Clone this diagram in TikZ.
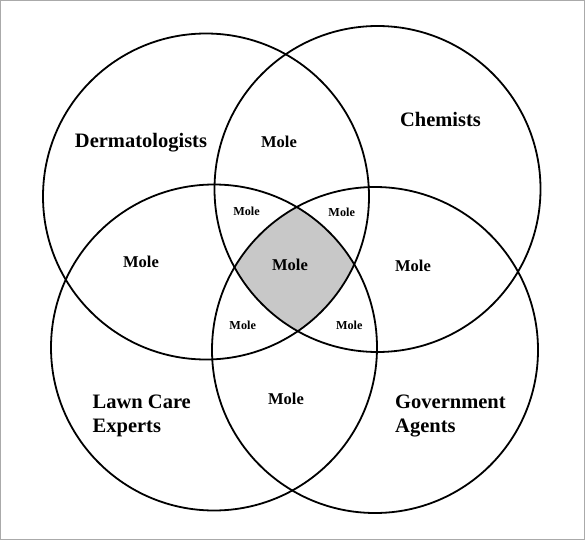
\documentclass[tikz,border=0pt]{standalone}
\usepackage{fontspec}
\setmainfont{Liberation Serif}
\definecolor{fillgray}{RGB}{200,200,200}
\definecolor{framegray}{RGB}{170,170,170}
\tikzset{
  ring/.style={draw=black, line width=1.8pt},
  grouplabel/.style={font=\fontsize{20.5}{23.5}\selectfont\bfseries, inner sep=0pt},
  bigmole/.style={font=\fontsize{16.5}{19}\selectfont\bfseries, inner sep=0pt, anchor=base},
  smallmole/.style={font=\fontsize{12.2}{14}\selectfont\bfseries, inner sep=0pt, anchor=base}
}
\begin{document}
\begin{tikzpicture}[x=1pt, y=-1pt]
\useasboundingbox (0,0) rectangle (585,540);
\draw[framegray, line width=1pt] (0.5,0.5) rectangle (584.5,539.5);
\coordinate (cD) at (206,196.5);
\coordinate (cC) at (377.5,189);
\coordinate (cL) at (214,347.5);
\coordinate (cG) at (375,350);
\begin{scope}
  \clip (cD) circle[radius=163pt];
  \clip (cC) circle[radius=163pt];
  \clip (cL) circle[radius=163pt];
  \fill[fillgray] (cG) circle[radius=163pt];
\end{scope}
\draw[ring] (cD) circle[radius=163pt];
\draw[ring] (cC) circle[radius=163pt];
\draw[ring] (cL) circle[radius=163pt];
\draw[ring] (cG) circle[radius=163pt];
\node[grouplabel, anchor=base] (derm) at (141,147.7) {Dermatologists};
\node[grouplabel, anchor=base] (chem) at (440.5,126.7) {Chemists};
\node[grouplabel, anchor=north west, align=left] (lawn) at (92.5,395) {Lawn Care\\Experts};
\node[grouplabel, anchor=north west, align=left] (gov) at (395,395) {Government\\Agents};
\node[bigmole] (mDC) at (279,147) {Mole};
\node[bigmole] (mAll) at (290,270) {Mole};
\node[bigmole] (mDL) at (141,267) {Mole};
\node[bigmole] (mCG) at (413,271.5) {Mole};
\node[bigmole] (mLG) at (286,404) {Mole};
\node[smallmole] (sTL) at (246.5,215.7) {Mole};
\node[smallmole] (sTR) at (341.7,216.7) {Mole};
\node[smallmole] (sBL) at (242.7,329.3) {Mole};
\node[smallmole] (sBR) at (349.3,329.3) {Mole};
\end{tikzpicture}
\end{document}
